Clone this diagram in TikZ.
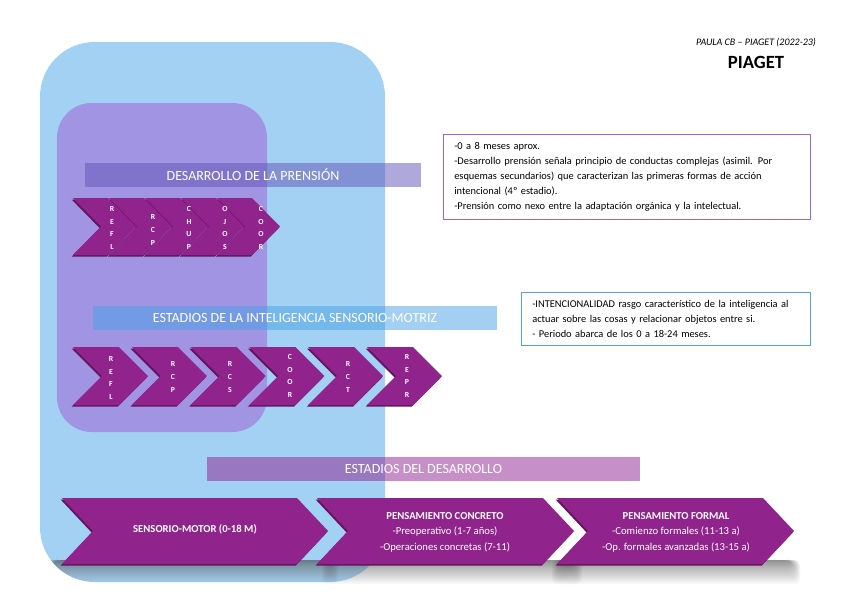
\documentclass[tikz,border=0pt]{standalone}
\usepackage{fontspec}
\setmainfont{Carlito}
\definecolor{bluebg}{RGB}{163,209,243}
\definecolor{lilac}{RGB}{160,148,227}
\definecolor{chev}{RGB}{145,35,140}
\definecolor{chevdark}{RGB}{98,20,96}
\definecolor{barA}{RGB}{97,83,183}
\definecolor{barB}{RGB}{71,161,231}
\definecolor{barC}{RGB}{145,33,145}
\definecolor{boxA}{RGB}{160,100,215}
\definecolor{boxB}{RGB}{90,160,225}
\definecolor{shade}{RGB}{60,60,70}
\newcommand{\chevp}[5]{(#1,#2) -- ++(#3,0) -- ++(#5,#4/2) -- ++(-#5,#4/2) -- ++(-#3,0) -- ++(#5,-#4/2) -- cycle}
\newcommand{\chevshape}[5]{%
  \fill[chevdark] \chevp{#1-1.3}{#2+1.6}{#3}{#4}{#5};
  \fill[chev] \chevp{#1}{#2}{#3}{#4}{#5};}
% soft shadow band: x1, x2, top y
\newcommand{\softshadow}[3]{%
  \foreach \i in {1,...,12}{
    \fill[shade, opacity=0.03, rounded corners=4pt] ({#1+12-\i},{#3}) rectangle ({#2-12+\i},{#3+2*\i});
  }}
\begin{document}
\begin{tikzpicture}[x=0.75pt,y=-0.75pt,
  bar/.style={fill opacity=0.5, text opacity=1, text=white, font=\fontsize{10.5}{12}\selectfont, inner sep=0pt},
  vlet/.style={text=white, font=\fontsize{5.8}{9.5}\selectfont\bfseries, align=center, inner sep=0pt},
  stage/.style={text=white, font=\fontsize{8}{11.6}\selectfont, align=center, inner sep=0pt},
  infobox/.style={draw, line width=0.9pt, fill=white, align=left, font=\fontsize{7.8}{11.25}\selectfont, inner xsep=8pt, inner ysep=0pt, anchor=north west}]
\fill[white] (0,0) rectangle (848,600);
\useasboundingbox (0,0) rectangle (848,600);
% background panels
\fill[bluebg, rounded corners=41pt] (40,42) rectangle (385,582);
\fill[lilac, rounded corners=26pt] (57,103) rectangle (267,432);
% shadows of the stage chevrons
\begin{scope}
\clip[rounded corners=41pt] (40,42) rectangle (385,582);
\softshadow{45}{338}{560}
\end{scope}
\softshadow{322}{582}{560}
\softshadow{552}{800}{560}
% bars
\node[bar, fill=barA, minimum width=252pt, minimum height=18pt] (prension) at (253,175) {DESARROLLO DE LA PRENSIÓN};
\node[bar, fill=barB, minimum width=303pt, minimum height=18pt] (estadiosism) at (295,318) {ESTADIOS DE LA INTELIGENCIA SENSORIO-MOTRIZ};
\node[bar, fill=barC, minimum width=324.75pt, minimum height=18pt] (estadiosdes) at (423.5,469) {ESTADIOS DEL DESARROLLO};
% row 1 chevrons
\chevshape{217}{198}{35}{57}{28}
\chevshape{181}{198}{35}{57}{28}
\chevshape{145}{198}{35}{57}{28}
\chevshape{109}{198}{35}{57}{28}
\chevshape{73}{198}{35}{57}{28}
\node[vlet] (a1) at (112,228) {R\\E\\F\\L};
\node[vlet] (a2) at (153,230) {R\\C\\P};
\node[vlet] (a3) at (189,228) {C\\H\\U\\P};
\node[vlet] (a4) at (225,228) {O\\J\\O\\S};
\node[vlet] (a5) at (261,228) {C\\O\\O\\R};
% row 2 chevrons
\chevshape{367}{347}{46}{58}{29}
\chevshape{308.2}{347}{46}{58}{29}
\chevshape{249.4}{347}{46}{58}{29}
\chevshape{190.6}{347}{46}{58}{29}
\chevshape{131.8}{347}{46}{58}{29}
\chevshape{73}{347}{46}{58}{29}
\node[vlet] (b1) at (111,378) {R\\E\\F\\L};
\node[vlet] (b2) at (173,377) {R\\C\\P};
\node[vlet] (b3) at (230,377) {R\\C\\S};
\node[vlet] (b4) at (290,376) {C\\O\\O\\R};
\node[vlet] (b5) at (348,377) {R\\C\\T};
\node[vlet] (b6) at (407,376) {R\\E\\P\\R};
% stage chevrons
\chevshape{557}{498}{206}{66}{31}
\chevshape{317}{498}{226}{66}{31}
\chevshape{62}{498}{235}{66}{31}
\node[stage] (sm) at (195,529) {\textbf{SENSORIO-MOTOR (0-18 M)}};
\node[stage] (pc) at (445,532) {\textbf{PENSAMIENTO CONCRETO}\\-Preoperativo (1-7 años)\\-Operaciones concretas (7-11)};
\node[stage] (pf) at (676,532) {\textbf{PENSAMIENTO FORMAL}\\-Comienzo formales (11-13 a)\\-Op. formales avanzadas (13-15 a)};
% info boxes
\node[infobox, draw=boxA, minimum height=63.75pt, text width=259pt] (infoA) at (443,134) {-0 a 8 meses aprox.\\-Desarrollo prensión señala principio de conductas complejas (asimil. Por\\esquemas secundarios) que caracterizan las primeras formas de acción\\intencional (4º estadio).\\-Prensión como nexo entre la adaptación orgánica y la intelectual.};
\node[infobox, draw=boxB, minimum height=39.75pt, text width=200.5pt] (infoB) at (521,292) {-INTENCIONALIDAD rasgo característico de la inteligencia al\\actuar sobre las cosas y relacionar objetos entre si.\\- Periodo abarca de los 0 a 18-24 meses.};
% title
\node[font=\fontsize{7.5}{8}\selectfont\itshape, inner sep=0pt] (author) at (756,43) {PAULA CB – PIAGET (2022-23)};
\node[font=\fontsize{14}{16}\selectfont\bfseries, inner sep=0pt] (title) at (756,62) {PIAGET};
\end{tikzpicture}
\end{document}
